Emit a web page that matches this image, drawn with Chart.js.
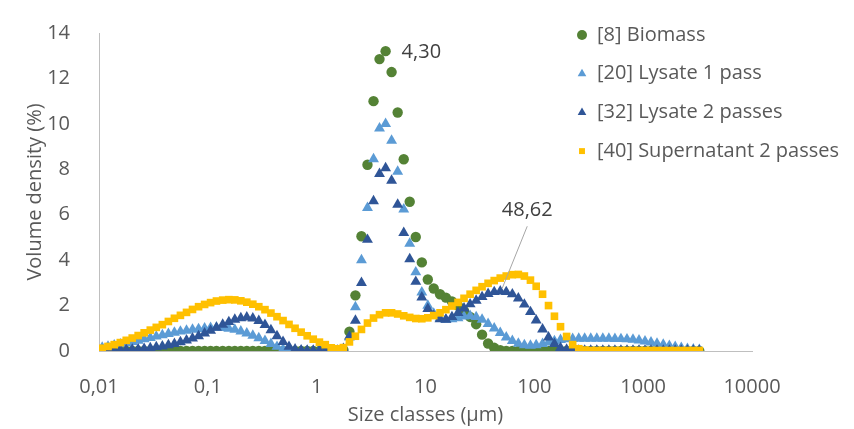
<!DOCTYPE html>
<html>
<head>
<meta charset="utf-8">
<script src="https://cdn.jsdelivr.net/npm/chart.js@4.4.1/dist/chart.umd.min.js"></script>
<style>
  html, body { margin: 0; padding: 0; background: #ffffff; }
  #wrap { width: 854px; height: 429px; }
</style>
</head>
<body>
<div id="wrap"><canvas id="psdChart" width="854" height="429"></canvas></div>
<script>
// size classes (µm), bin midpoints
var sizeClasses = [
  0.0107, 0.0121, 0.0138, 0.0157, 0.0178, 0.0202, 0.0229, 0.0260, 0.0296, 0.0336,
  0.0382, 0.0434, 0.0493, 0.0560, 0.0637, 0.0723, 0.0822, 0.0934, 0.106, 0.120,
  0.137, 0.156, 0.177, 0.201, 0.228, 0.259, 0.294, 0.335, 0.380, 0.432,
  0.491, 0.557, 0.633, 0.720, 0.818, 0.930, 1.06, 1.20, 1.36, 1.55,
  1.76, 2.00, 2.27, 2.58, 2.93, 3.33, 3.78, 4.30, 4.88, 5.55,
  6.31, 7.16, 8.14, 9.25, 10.5, 11.9, 13.6, 15.4, 17.5, 19.9,
  22.6, 25.7, 29.2, 33.1, 37.6, 42.8, 48.62, 55.2, 62.8, 71.3,
  81.0, 92.1, 104, 119, 135, 153, 174, 198, 225, 256,
  290, 330, 375, 426, 484, 550, 625, 710, 806, 916,
  1040, 1180, 1340, 1530, 1740, 1970, 2240, 2550, 2890, 3280
];

var biomass = [
  0, 0, 0, 0, 0, 0, 0, 0, 0, 0,
  0, 0, 0, 0, 0, 0, 0, 0, 0, 0,
  0, 0, 0, 0, 0, 0, 0, 0, 0, 0,
  0, 0, 0, 0, 0, 0, 0, 0, 0, 0,
  0.05, 0.85, 2.45, 5.05, 8.2, 11.0, 12.85, 13.2, 12.28, 10.5,
  8.44, 6.57, 5.02, 3.9, 3.15, 2.75, 2.5, 2.35, 2.18, 2.0,
  1.76, 1.5, 1.18, 0.72, 0.33, 0.14, 0.04, 0, 0, 0,
  0, 0, 0, 0, 0, 0, 0, 0, 0, 0,
  0, 0, 0, 0, 0, 0, 0, 0, 0, 0,
  0, 0, 0, 0, 0, 0, 0, 0, 0, 0
];

var lysate1 = [
  0.15, 0.2, 0.25, 0.3, 0.35, 0.4, 0.46, 0.52, 0.58, 0.64,
  0.7, 0.76, 0.81, 0.86, 0.9, 0.94, 0.97, 1.0, 1.02, 1.03,
  1.02, 0.99, 0.94, 0.87, 0.78, 0.68, 0.57, 0.45, 0.32, 0.19,
  0.08, 0.03, 0.01, 0, 0, 0, 0, 0, 0, 0,
  0.05, 0.6, 1.93, 4.0, 6.3, 8.45, 9.8, 10.0, 9.26, 7.9,
  6.24, 4.73, 3.47, 2.58, 2.0, 1.65, 1.45, 1.38, 1.4, 1.45,
  1.52, 1.55, 1.5, 1.38, 1.2, 1.0, 0.8, 0.6, 0.45, 0.33,
  0.26, 0.24, 0.26, 0.32, 0.38, 0.44, 0.49, 0.52, 0.54, 0.55,
  0.55, 0.55, 0.55, 0.55, 0.55, 0.54, 0.53, 0.52, 0.5, 0.47,
  0.43, 0.38, 0.33, 0.28, 0.23, 0.18, 0.14, 0.1, 0.07, 0.05
];

var lysate2 = [
  0.02, 0.02, 0.03, 0.04, 0.05, 0.06, 0.08, 0.1, 0.13, 0.17,
  0.21, 0.26, 0.32, 0.39, 0.47, 0.56, 0.66, 0.78, 0.9, 1.03,
  1.16, 1.28, 1.38, 1.45, 1.48, 1.44, 1.33, 1.15, 0.92, 0.66,
  0.4, 0.19, 0.07, 0.03, 0.02, 0.02, 0.02, 0.02, 0.02, 0.02,
  0.1, 0.64, 1.34, 3.0, 4.9, 6.6, 7.8, 8.05, 7.5, 6.45,
  5.2, 4.05, 3.05, 2.36, 1.86, 1.55, 1.4, 1.38, 1.5, 1.68,
  1.88, 2.06, 2.22, 2.38, 2.52, 2.6, 2.63, 2.6, 2.5, 2.32,
  2.05, 1.72, 1.35, 0.95, 0.6, 0.32, 0.14, 0.06, 0.03, 0.02,
  0.02, 0.02, 0.02, 0.02, 0.02, 0.02, 0.02, 0.02, 0.02, 0.02,
  0.02, 0.02, 0.02, 0.02, 0.02, 0.02, 0.02, 0.02, 0.02, 0.02
];

var supernatant = [
  0.12, 0.2, 0.28, 0.37, 0.47, 0.57, 0.68, 0.8, 0.92, 1.04,
  1.16, 1.3, 1.44, 1.57, 1.7, 1.83, 1.95, 2.05, 2.13, 2.2,
  2.24, 2.26, 2.25, 2.21, 2.15, 2.06, 1.95, 1.82, 1.67, 1.51,
  1.34, 1.17, 1.0, 0.83, 0.67, 0.52, 0.39, 0.28, 0.14, 0.1,
  0.15, 0.4, 0.65, 0.95, 1.23, 1.45, 1.6, 1.68, 1.68, 1.63,
  1.55, 1.48, 1.43, 1.42, 1.46, 1.56, 1.68, 1.82, 1.98, 2.14,
  2.32, 2.5, 2.67, 2.83, 2.98, 3.1, 3.21, 3.3, 3.36, 3.37,
  3.3, 3.12, 2.85, 2.5, 2.0, 1.53, 1.07, 0.64, 0.28, 0.1,
  0.04, 0.02, 0.02, 0.02, 0.02, 0.02, 0.02, 0.02, 0.02, 0.02,
  0.02, 0.02, 0.02, 0.02, 0.02, 0.02, 0.02, 0.02, 0.02, 0.02
];

var seriesNames = ['[8] Biomass', '[20] Lysate 1 pass', '[32] Lysate 2 passes', '[40] Supernatant 2 passes'];
var seriesColors = ['#548235', '#5b9bd5', '#2f5597', '#ffc000'];
var xTicks = [0.01, 0.1, 1, 10, 100, 1000, 10000];
var yTicks = [0, 2, 4, 6, 8, 10, 12, 14];

// labelled points: [dataset, size class, text]
var peakLabels = [
  [0, 4.30, '4,30'],
  [2, 48.62, '48,62']
];

var FONT = '"Open Sans", "Noto Sans", sans-serif';

function toPoints(values) {
  return values.map(function(v, i) { return { x: sizeClasses[i], y: v }; });
}

function drawMarker(ctx, style, x, y, r, color) {
  ctx.fillStyle = color;
  ctx.beginPath();
  if (style === 'circle') {
    ctx.arc(x, y, r, 0, Math.PI * 2);
  } else if (style === 'triangle') {
    ctx.moveTo(x, y - r);
    ctx.lineTo(x + r * 0.866, y + r * 0.5);
    ctx.lineTo(x - r * 0.866, y + r * 0.5);
    ctx.closePath();
  } else {
    var s = r * Math.SQRT1_2;
    ctx.rect(x - s, y - s, 2 * s, 2 * s);
  }
  ctx.fill();
}

// legend drawn at the top right, inside the plot like the original
var sideLegend = {
  id: 'sideLegend',
  afterDraw: function(chart) {
    var ctx = chart.ctx;
    ctx.save();
    ctx.font = '20px ' + FONT;
    ctx.textBaseline = 'middle';
    ctx.textAlign = 'left';
    chart.data.datasets.forEach(function(ds, i) {
      var y = 35 + i * 38.7;
      drawMarker(ctx, ds.pointStyle, 582, y, ds.pointStyle === 'rect' ? 4.2 : 5, ds.backgroundColor);
      ctx.fillStyle = '#595959';
      ctx.fillText(ds.label, 597, y);
    });
    ctx.restore();
  }
};

var pointLabels = {
  id: 'pointLabels',
  afterDatasetsDraw: function(chart) {
    var ctx = chart.ctx;
    ctx.save();
    ctx.font = '20px ' + FONT;
    ctx.fillStyle = '#404040';
    ctx.textBaseline = 'middle';
    peakLabels.forEach(function(lab) {
      var idx = sizeClasses.indexOf(lab[1]);
      var pt = chart.getDatasetMeta(lab[0]).data[idx];
      if (!pt) return;
      if (lab[0] === 0) {
        ctx.textAlign = 'left';
        ctx.fillText(lab[2], pt.x + 16, pt.y + 1);
      } else {
        ctx.strokeStyle = '#a6a6a6';
        ctx.lineWidth = 1;
        ctx.beginPath();
        ctx.moveTo(pt.x + 27, pt.y - 65);
        ctx.lineTo(pt.x + 2, pt.y - 3);
        ctx.stroke();
        ctx.textAlign = 'center';
        ctx.fillText(lab[2], pt.x + 27, pt.y - 81);
      }
    });
    ctx.restore();
  }
};

function buildChart() {
  var allSeries = [biomass, lysate1, lysate2, supernatant];
  var styles = ['circle', 'triangle', 'triangle', 'rect'];
  var radii = [5.2, 6.3, 6.3, 5.4];

  var datasets = allSeries.map(function(vals, i) {
    return {
      label: seriesNames[i],
      data: toPoints(vals),
      pointStyle: styles[i],
      pointRadius: radii[i],
      pointHoverRadius: radii[i],
      backgroundColor: seriesColors[i],
      borderColor: seriesColors[i],
      pointBorderWidth: 0,
      showLine: false,
      order: allSeries.length - i   // later series on top, as in the original
    };
  });

  var tickFont = { family: FONT, size: 20 };

  var ctx = document.getElementById('psdChart').getContext('2d');
  new Chart(ctx, {
    type: 'scatter',
    data: { datasets: datasets },
    options: {
      responsive: false,
      animation: false,
      devicePixelRatio: 1,
      layout: { padding: { top: 26, right: 102, bottom: 0, left: 0 } },
      plugins: {
        legend: { display: false },
        tooltip: { enabled: false }
      },
      scales: {
        x: {
          type: 'logarithmic',
          min: 0.01,
          max: 10000,
          grid: { display: false },
          border: { display: true, color: '#bfbfbf', width: 1 },
          afterBuildTicks: function(scale) {
            scale.ticks = xTicks.map(function(v) { return { value: v }; });
          },
          ticks: {
            autoSkip: false,
            maxRotation: 0,
            padding: 16,
            color: '#595959',
            font: tickFont,
            callback: function(v) { return String(v).replace('.', ','); }
          },
          title: {
            display: true,
            text: 'Size classes (µm)',
            color: '#595959',
            font: tickFont,
            padding: { top: 0, bottom: 2 }
          },
          afterFit: function(scale) { scale.height = 78; }
        },
        y: {
          min: 0,
          max: 14,
          grid: { display: false },
          border: { display: true, color: '#bfbfbf', width: 1 },
          afterBuildTicks: function(scale) {
            scale.ticks = yTicks.map(function(v) { return { value: v }; });
          },
          ticks: {
            padding: 21,
            color: '#595959',
            font: tickFont
          },
          title: {
            display: true,
            text: 'Volume density (%)',
            color: '#595959',
            font: tickFont,
            padding: { top: 23, bottom: 0 }
          },
          afterFit: function(scale) { scale.width = 99; }
        }
      }
    },
    plugins: [pointLabels, sideLegend]
  });
}

if (document.fonts && document.fonts.load) {
  document.fonts.load('20px "Open Sans"').then(buildChart, buildChart);
} else {
  buildChart();
}
</script>
</body>
</html>
